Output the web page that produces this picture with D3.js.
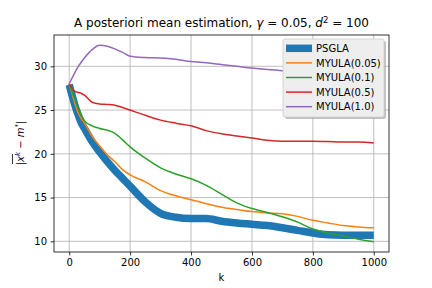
<!DOCTYPE html>
<html><head><meta charset="utf-8">
<script src="https://cdn.jsdelivr.net/npm/d3@7"></script>
<style>body{margin:0;background:#fff}svg{display:block;font-family:"DejaVu Sans",sans-serif}</style>
</head><body>
<svg id="c" width="432" height="288"></svg>
<script>
const ks = [0,10,20,30,40,50,75,100,125,150,175,200,250,300,350,400,450,500,550,600,650,700,750,800,850,900,950,1000];
const psgla  = [27.9,26.6,25.4,24.4,23.5,22.9,21.4,20.2,19.1,18.1,17.2,16.3,14.5,13.2,12.75,12.6,12.6,12.3,12.1,11.95,11.8,11.55,11.25,10.95,10.75,10.7,10.7,10.7];
const myula005 = [28.0,26.8,25.6,24.6,24.0,23.5,22.0,20.9,19.9,19.1,18.2,17.6,16.8,15.8,15.2,14.75,14.3,13.9,13.65,13.4,13.25,13.15,12.85,12.4,12.1,11.8,11.65,11.55];
const myula01  = [28.0,27.0,26.1,25.1,24.4,23.8,23.2,22.9,22.7,22.35,21.6,20.8,19.5,18.4,17.7,17.15,16.4,15.4,14.4,13.75,13.3,12.8,12.2,11.4,10.95,10.6,10.25,9.95];
const myula05  = [28.0,27.4,27.1,27.0,26.9,26.7,25.9,25.7,25.65,25.55,25.3,25.0,24.4,23.85,23.5,23.2,22.65,22.3,22.05,21.8,21.55,21.45,21.45,21.45,21.4,21.35,21.35,21.25];
const myula10  = [28.0,28.7,29.4,30.0,30.5,30.95,31.9,32.4,32.3,32.0,31.6,31.15,31.0,30.95,30.8,30.55,30.4,30.2,30.0,29.8,29.65,29.5,29.35,29.2,29.1,29.0,28.9,28.8];
const seriesNames = ["PSGLA","MYULA(0.05)","MYULA(0.1)","MYULA(0.5)","MYULA(1.0)"];
const seriesVals = [psgla, myula005, myula01, myula05, myula10];
const colors = ["#1f77b4","#ff7f0e","#2ca02c","#d62728","#9467bd"];
const widths = [7.5,1.5,1.5,1.5,1.5];
const xTicks = [0,200,400,600,800,1000];
const yTicks = [10,15,20,25,30];

const L=54,R=389,T=35,B=252;
const svg=d3.select("#c");
const x=d3.scaleLinear().domain([-50,1050]).range([L,R]);
const y=d3.scaleLinear().domain([8.78,33.58]).range([B,T]);

// grid
const g=svg.append("g");
g.selectAll(".gx").data(xTicks).join("line").attr("x1",d=>x(d)).attr("x2",d=>x(d)).attr("y1",T).attr("y2",B).attr("stroke","#b0b0b0").attr("stroke-width",0.8);
g.selectAll(".gy").data(yTicks).join("line").attr("y1",d=>y(d)).attr("y2",d=>y(d)).attr("x1",L).attr("x2",R).attr("stroke","#b0b0b0").attr("stroke-width",0.8);

// lines
svg.append("clipPath").attr("id","cp").append("rect").attr("x",L).attr("y",T).attr("width",R-L).attr("height",B-T);
const line=d3.line().x((d,i)=>x(ks[i])).y(d=>y(d)).curve(d3.curveMonotoneX);
seriesVals.forEach((vals,i)=>{
  svg.append("path").attr("d",line(vals)).attr("fill","none").attr("stroke",colors[i]).attr("stroke-width",widths[i]).attr("stroke-linejoin","round").attr("stroke-linecap","butt").attr("clip-path","url(#cp)");
});

// axes
const xa=svg.append("g").attr("transform",`translate(0,${B})`).call(d3.axisBottom(x).tickValues(xTicks).tickSize(3.5).tickPadding(3.5).tickFormat(d3.format("d")));
const ya=svg.append("g").attr("transform",`translate(${L},0)`).call(d3.axisLeft(y).tickValues(yTicks).tickSize(3.5).tickPadding(3.5).tickFormat(d3.format("d")));
[xa,ya].forEach(a=>{a.select(".domain").remove();a.selectAll("text").attr("font-size",10).attr("font-family","DejaVu Sans").attr("fill","#000");a.selectAll("line").attr("stroke","#000").attr("stroke-width",0.8);});
svg.append("rect").attr("x",L).attr("y",T).attr("width",R-L).attr("height",B-T).attr("fill","none").attr("stroke","#000").attr("stroke-width",0.8);

// title
const t=svg.append("text").attr("x",221.5).attr("y",27).attr("text-anchor","middle").attr("font-size",12).attr("fill","#000");
t.append("tspan").text("A posteriori mean estimation, ");
t.append("tspan").attr("font-style","italic").text("γ");
t.append("tspan").text(" = 0.05, ");
t.append("tspan").attr("font-style","italic").text("d");
t.append("tspan").attr("font-size",8.5).attr("dy",-4.5).text("2");
t.append("tspan").attr("dy",4.5).text(" = 100");

// x label
svg.append("text").attr("x",221.5).attr("y",281).attr("text-anchor","middle").attr("font-size",10).text("k");

// y label
const yl=svg.append("g").attr("transform","translate(24,143) rotate(-90)");
const ytxt=yl.append("text").attr("x",0).attr("y",0).attr("text-anchor","middle").attr("font-size",10);
ytxt.append("tspan").text("|");
ytxt.append("tspan").attr("font-style","italic").text("x");
ytxt.append("tspan").attr("font-style","italic").attr("font-size",7).attr("dy",-4).text("k");
ytxt.append("tspan").attr("dy",4).text(" − ");
ytxt.append("tspan").attr("font-style","italic").text("m");
ytxt.append("tspan").attr("font-size",7).attr("dy",-4).text("*");
ytxt.append("tspan").attr("dy",4).text("|");
yl.append("line").attr("x1",-21).attr("x2",-11).attr("y1",-11.5).attr("y2",-11.5).attr("stroke","#000").attr("stroke-width",0.8);

// legend
const lg=svg.append("g");
const lx=283,ly=39,lw=101,lh=78;
lg.append("rect").attr("x",lx+2).attr("y",ly+2).attr("width",lw).attr("height",lh).attr("rx",2).attr("fill","#a8a8a8").attr("opacity",0.7);
lg.append("rect").attr("x",lx).attr("y",ly).attr("width",lw).attr("height",lh).attr("rx",2).attr("fill","#eeeeee").attr("stroke","#cccccc").attr("stroke-width",0.8);
seriesNames.forEach((n,i)=>{
  const yy=48.3+i*14.6;
  lg.append("line").attr("x1",lx+3).attr("x2",lx+29).attr("y1",yy).attr("y2",yy).attr("stroke",colors[i]).attr("stroke-width",widths[i]);
  lg.append("text").attr("x",lx+33).attr("y",yy+3.6).attr("font-size",10).attr("fill","#000").text(n);
});
</script>
</body></html>
